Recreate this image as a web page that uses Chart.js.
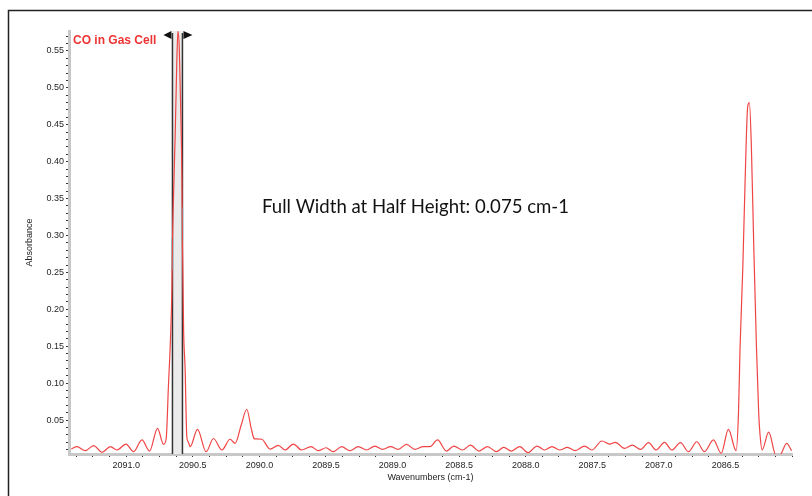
<!DOCTYPE html>
<html>
<head>
<meta charset="utf-8">
<script src="https://cdn.jsdelivr.net/npm/chart.js@4"></script>
<style>
  html, body { margin: 0; padding: 0; background: #fff; }
  #wrap { width: 812px; height: 496px; position: relative; }
</style>
</head>
<body>
<div id="wrap"><canvas id="spectrumChart"></canvas></div>
<script>
// spectrum (cm-1, absorbance)
const wavenumbers = [
  2091.4125, 2091.370, 2091.3075, 2091.245, 2091.182, 2091.120, 2091.070, 2091.002,
  2090.945, 2090.882, 2090.825, 2090.765, 2090.720, 2090.700, 2090.683, 2090.670,
  2090.657, 2090.653, 2090.644, 2090.632, 2090.621, 2090.612, 2090.602, 2090.591,
  2090.582, 2090.578, 2090.569, 2090.5575, 2090.552, 2090.545, 2090.535, 2090.520,
  2090.465, 2090.400, 2090.345, 2090.282, 2090.220, 2090.1825, 2090.137, 2090.095,
  2090.062, 2090.040, 2090.0325, 2089.982, 2089.930, 2089.920, 2089.858, 2089.8075,
  2089.745, 2089.682, 2089.6125, 2089.558, 2089.500, 2089.445, 2089.382, 2089.320,
  2089.258, 2089.195, 2089.1325, 2089.075, 2089.015, 2088.958, 2088.895, 2088.8325,
  2088.770, 2088.720, 2088.662, 2088.595, 2088.540, 2088.475, 2088.415, 2088.350,
  2088.287, 2088.220, 2088.165, 2088.107, 2088.045, 2087.983, 2087.915, 2087.8575,
  2087.803, 2087.745, 2087.687, 2087.627, 2087.5575, 2087.503, 2087.428, 2087.370,
  2087.327, 2087.2575, 2087.200, 2087.1375, 2087.0775, 2087.020, 2086.9575, 2086.903,
  2086.8375, 2086.7775, 2086.715, 2086.6575, 2086.590, 2086.532, 2086.4775, 2086.420,
  2086.402, 2086.390, 2086.370, 2086.352, 2086.333, 2086.320, 2086.305, 2086.287,
  2086.267, 2086.250, 2086.240, 2086.225, 2086.175, 2086.120, 2086.088, 2086.040,
  2086.003
];
const absorbance = [
  0.011, 0.014, 0.0085, 0.0153, 0.0063, 0.0139, 0.0094, 0.0175,
  0.0071, 0.023, 0.008, 0.0388, 0.017, 0.025, 0.097, 0.15,
  0.23, 0.29, 0.36, 0.44, 0.53, 0.577, 0.555, 0.47,
  0.38, 0.29, 0.17, 0.117, 0.07, 0.027, 0.0206, 0.014,
  0.0374, 0.0071, 0.025, 0.0094, 0.024, 0.0185, 0.043, 0.0646,
  0.039, 0.025, 0.0245, 0.024, 0.0116, 0.0107, 0.0157, 0.0094,
  0.0175, 0.0094, 0.014, 0.0085, 0.0125, 0.0071, 0.014, 0.0085,
  0.014, 0.0094, 0.0148, 0.0103, 0.014, 0.0103, 0.017, 0.0103,
  0.014, 0.014, 0.023, 0.008, 0.0148, 0.0094, 0.016, 0.008,
  0.014, 0.0071, 0.0129, 0.008, 0.014, 0.0058, 0.0148, 0.0094,
  0.014, 0.0094, 0.0129, 0.0085, 0.0148, 0.0094, 0.0216, 0.0175,
  0.0198, 0.0116, 0.016, 0.0103, 0.0193, 0.0094, 0.0198, 0.0094,
  0.0193, 0.0071, 0.0206, 0.0071, 0.023, 0.005, 0.0374, 0.0085,
  0.059, 0.149, 0.253, 0.375, 0.474, 0.48, 0.42, 0.284,
  0.149, 0.059, 0.03, 0.0094, 0.0335, 0.002, 0.003, 0.0185,
  0.0085
];
const xTickLabels = [2091.0, 2090.5, 2090.0, 2089.5, 2089.0, 2088.5, 2088.0, 2087.5, 2087.0, 2086.5];
const yTickLabels = [0.05, 0.10, 0.15, 0.20, 0.25, 0.30, 0.35, 0.40, 0.45, 0.50, 0.55];
const fwhhRange = [2090.653, 2090.578];
const seriesName = 'CO in Gas Cell';
const noteText = 'Full Width at Half Height: 0.075 cm-1';

const xMin = 2086.0, xMax = 2091.43;
const yMin = 0.004, yMax = 0.577;

const points = wavenumbers.map((w, i) => ({ x: w, y: absorbance[i] }));

const decorPlugin = {
  id: 'decor',
  beforeDatasetsDraw(chart) {
    const { ctx, chartArea, scales } = chart;
    const xa = scales.x.getPixelForValue(fwhhRange[0]);
    const xb = scales.x.getPixelForValue(fwhhRange[1]);
    ctx.save();
    ctx.fillStyle = '#ebebeb';
    ctx.fillRect(xa, chartArea.top, xb - xa, chartArea.bottom - chartArea.top);
    ctx.strokeStyle = '#333';
    ctx.lineWidth = 1.5;
    ctx.beginPath();
    ctx.moveTo(xa, chartArea.top + 2); ctx.lineTo(xa, chartArea.bottom);
    ctx.moveTo(xb, chartArea.top + 2); ctx.lineTo(xb, chartArea.bottom);
    ctx.stroke();
    // half height markers
    ctx.strokeStyle = '#33d0d8';
    ctx.lineWidth = 1.5;
    ctx.beginPath();
    ctx.moveTo(xa, scales.y.getPixelForValue(0.297)); ctx.lineTo(xa, scales.y.getPixelForValue(0.2535));
    ctx.moveTo(xb, scales.y.getPixelForValue(0.338)); ctx.lineTo(xb, scales.y.getPixelForValue(0.293));
    ctx.stroke();
    // arrow handles
    const ty = chartArea.top + 4;
    ctx.fillStyle = '#111';
    ctx.beginPath();
    ctx.moveTo(xa - 9, ty); ctx.lineTo(xa - 1, ty - 4); ctx.lineTo(xa - 1, ty + 4); ctx.closePath();
    ctx.fill();
    ctx.beginPath();
    ctx.moveTo(xb + 10, ty); ctx.lineTo(xb + 1, ty - 4); ctx.lineTo(xb + 1, ty + 4); ctx.closePath();
    ctx.fill();
    ctx.restore();
  },
  afterDraw(chart) {
    const { ctx, chartArea } = chart;
    ctx.save();
    // outer frame
    ctx.strokeStyle = '#222';
    ctx.lineWidth = 1.5;
    ctx.beginPath();
    ctx.moveTo(8.5, 496); ctx.lineTo(8.5, 10.5); ctx.lineTo(812, 10.5);
    ctx.stroke();
    // series name
    ctx.fillStyle = '#ee3333';
    ctx.font = 'bold 12px Arial, "Liberation Sans", sans-serif';
    ctx.textBaseline = 'alphabetic';
    ctx.fillText(seriesName, chartArea.left + 4, 44);
    // note
    ctx.fillStyle = '#111';
    ctx.font = '20px Lato, sans-serif';
    const w = ctx.measureText(noteText).width;
    ctx.font = (20 * 307 / w).toFixed(2) + 'px Lato, sans-serif';
    ctx.fillText(noteText, 262, 213);
    ctx.restore();
  }
};

const tickFont = { family: 'Arial, "Liberation Sans", sans-serif', size: 9 };

new Chart(document.getElementById('spectrumChart').getContext('2d'), {
  type: 'scatter',
  data: {
    datasets: [{
      label: seriesName,
      data: points,
      showLine: true,
      borderColor: '#f04545',
      borderWidth: 1.2,
      pointRadius: 0,
      cubicInterpolationMode: 'monotone'
    }]
  },
  options: {
    responsive: true,
    maintainAspectRatio: false,
    animation: false,
    layout: { padding: { top: 31, right: 20, left: 0, bottom: 0 } },
    plugins: { legend: { display: false }, tooltip: { enabled: false } },
    scales: {
      x: {
        type: 'linear',
        reverse: true,
        min: xMin,
        max: xMax,
        afterFit(scale) { scale.height = 42; },
        afterBuildTicks(scale) {
          const t = [];
          for (let v = xMin; v <= xMax + 1e-9; v += 0.125) t.push({ value: v });
          scale.ticks = t;
        },
        ticks: {
          autoSkip: false,
          maxRotation: 0,
          padding: 3,
          color: '#1e1e1e',
          font: tickFont,
          callback(value) {
            return xTickLabels.some(l => Math.abs(l - value) < 1e-6) ? value.toFixed(1) : '';
          }
        },
        grid: { drawOnChartArea: false, tickLength: 3, tickColor: '#333' },
        border: { color: '#c8c8c8', width: 3 },
        title: {
          display: true,
          text: 'Wavenumbers (cm-1)',
          color: '#222',
          font: tickFont,
          padding: { top: 0, bottom: 12.6 }
        }
      },
      y: {
        min: yMin,
        max: yMax,
        afterFit(scale) { scale.width = 69; },
        afterBuildTicks(scale) {
          const t = [];
          for (let k = 1; k <= 57; k++) t.push({ value: k / 100 });
          scale.ticks = t;
        },
        ticks: {
          autoSkip: false,
          padding: 2,
          color: '#1e1e1e',
          font: tickFont,
          callback(value) {
            return yTickLabels.some(l => Math.abs(l - value) < 1e-6) ? value.toFixed(2) : '';
          }
        },
        grid: { drawOnChartArea: false, tickLength: 3, tickColor: '#333' },
        border: { color: '#c8c8c8', width: 3 },
        title: {
          display: true,
          text: 'Absorbance',
          color: '#222',
          font: tickFont,
          padding: { top: 24.6, bottom: 0 }
        }
      }
    }
  },
  plugins: [decorPlugin]
});
</script>
</body>
</html>
